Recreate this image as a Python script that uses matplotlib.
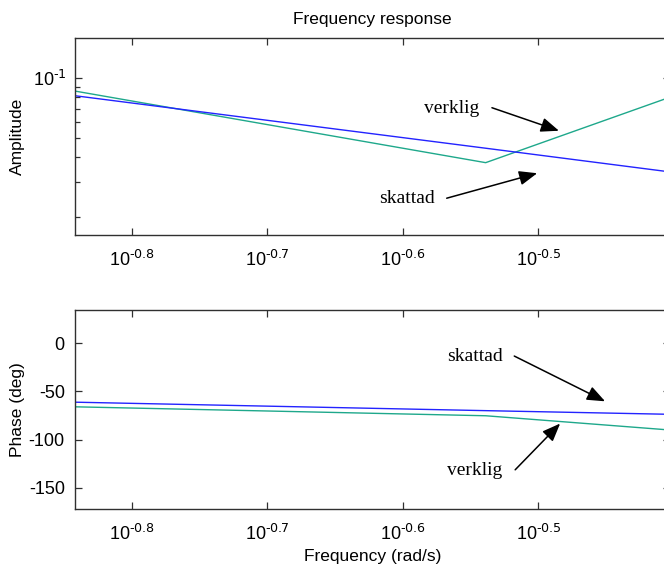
import numpy as np
import matplotlib
matplotlib.use("Agg")
import matplotlib.pyplot as plt
from matplotlib import ticker

plt.rcParams['font.family'] = ['Liberation Sans', 'DejaVu Sans']

# frequency points (rad/s) and the two responses
freq = [0.1438, 0.2891, 0.3954]
amp_verklig = [0.0858, 0.0376, 0.0799]
amp_skattad = [0.0813, 0.0444, 0.0338]
phase_verklig = [-66.0, -75.3, -90.1]
phase_skattad = [-61.2, -70.0, -73.8]

xtick_exp = ['-0.8', '-0.7', '-0.6', '-0.5']
phase_ticks = [0, -50, -100, -150]

c_verklig = '#1ea88b'
c_skattad = '#2323ff'
spine_col = '#303030'


def pow10(e):
    # plain hyphen in the exponent instead of the math minus
    return r'$\mathregular{10^{\text{%s}}}$' % e


fig = plt.figure(figsize=(6.64, 5.69), dpi=100)
ax1 = fig.add_axes([0.1123, 0.587, 0.8967, 0.3457])
ax2 = fig.add_axes([0.1123, 0.1063, 0.8967, 0.3489])

for ax in (ax1, ax2):
    ax.set_xscale('log')
    ax.set_xlim(freq[0], freq[-1])
    ax.set_xticks([10 ** float(e) for e in xtick_exp])
    ax.set_xticklabels([pow10(e) for e in xtick_exp])
    ax.xaxis.set_minor_locator(ticker.NullLocator())
    ax.tick_params(which='both', direction='in', top=True, right=True,
                   colors=spine_col, labelcolor='black', labelsize=13)
    ax.tick_params(which='major', length=5, width=0.9)
    ax.tick_params(which='minor', length=3.5, width=0.9)
    ax.tick_params(axis='x', pad=11)
    for s in ax.spines.values():
        s.set_color(spine_col)
        s.set_linewidth(1.0)

# amplitude
ax1.plot(freq, amp_verklig, color=c_verklig, lw=1.0)
ax1.plot(freq, amp_skattad, color=c_skattad, lw=1.0)
ax1.set_yscale('log')
ax1.set_ylim(0.01635, 0.1574)
ax1.set_yticks([0.1])
ax1.set_yticklabels([pow10('-1')])
ax1.yaxis.set_minor_locator(ticker.LogLocator(base=10, subs=np.arange(2, 10)))
ax1.yaxis.set_minor_formatter(ticker.NullFormatter())
ax1.tick_params(axis='y', pad=6)
ax1.set_ylabel('Amplitude', fontsize=12.5)
ax1.yaxis.set_label_coords(-0.083, 0.5)
ax1.set_title('Frequency response', fontsize=12.5, pad=10)

# phase
ax2.plot(freq, phase_verklig, color=c_verklig, lw=1.0)
ax2.plot(freq, phase_skattad, color=c_skattad, lw=1.0)
ax2.set_ylim(-171.6, 34.5)
ax2.set_yticks(phase_ticks)
ax2.set_yticklabels([str(t) for t in phase_ticks])
ax2.tick_params(axis='y', pad=7)
ax2.set_ylabel('Phase (deg)', fontsize=12.5)
ax2.yaxis.set_label_coords(-0.083, 0.5)
ax2.set_xlabel('Frequency (rad/s)', fontsize=12.5, labelpad=4)

arrow = dict(arrowstyle='-|>,head_length=0.55,head_width=0.22',
             color='black', lw=1.1, shrinkA=0, shrinkB=0, mutation_scale=20)
serif = ['Liberation Serif', 'DejaVu Serif']


def label(ax, s, pos, start, tip):
    ax.text(pos[0], pos[1], s, transform=ax.transAxes, family=serif,
            fontsize=14, ha='center', va='center')
    ax.annotate('', xy=tip, xytext=start, xycoords='axes fraction',
                textcoords='axes fraction', arrowprops=arrow)


label(ax1, 'verklig', (0.634, 0.641), (0.701, 0.647), (0.8135, 0.530))
label(ax1, 'skattad', (0.558, 0.188), (0.625, 0.187), (0.777, 0.314))
label(ax2, 'skattad', (0.672, 0.764), (0.7385, 0.768), (0.891, 0.540))
label(ax2, 'verklig', (0.672, 0.192), (0.740, 0.195), (0.8155, 0.428))

fig.savefig('out.png', dpi=100)
